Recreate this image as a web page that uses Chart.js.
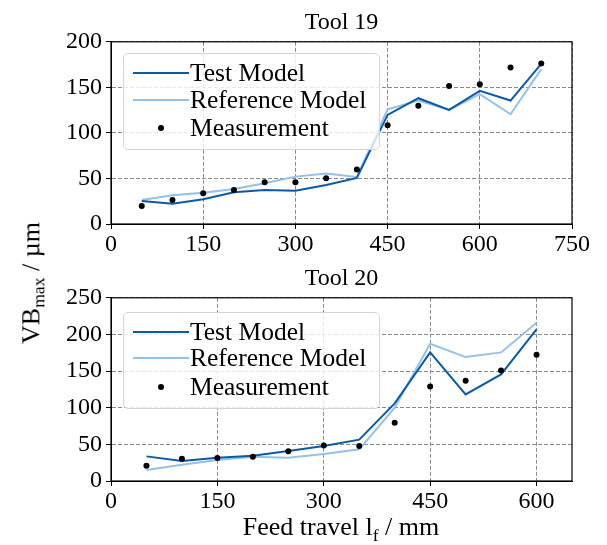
<!DOCTYPE html>
<html>
<head>
<meta charset="utf-8">
<script src="https://cdn.jsdelivr.net/npm/chart.js@4.4.1/dist/chart.umd.min.js"></script>
<style>
  body { margin: 0; background: #fff; }
  #wrap { position: relative; width: 607px; height: 545px; font-family: "Liberation Serif", serif; }
  canvas { position: absolute; left: 0; }
  .legend {
    position: absolute; left: 123px; width: 255px; height: 95px;
    border: 1px solid #d4d4d4; border-radius: 5px; background: rgba(255,255,255,0.8);
    font-size: 25.5px; color: #000;
  }
  .row { position: absolute; left: 9px; height: 28px; display: flex; align-items: center; white-space: nowrap; }
  .sample { width: 56px; height: 28px; position: relative; margin-right: 1px; }
  .sample .ln { position: absolute; left: 0; right: 0; top: 13px; height: 0; border-top: 2px solid; }
  .sample .dot { position: absolute; left: 25px; top: 11px; width: 6px; height: 6px; border-radius: 50%; background: #000; }
  .lab { position: absolute; font-size: 26px; white-space: nowrap; }
  .lab sub { font-size: 0.68em; vertical-align: -0.3em; }
</style>
</head>
<body>
<div id="wrap">
  <canvas id="c19" width="607" height="256" style="top:0"></canvas>
  <canvas id="c20" width="607" height="289" style="top:256px"></canvas>
  <div class="legend" id="leg19" style="top:53px"></div>
  <div class="legend" id="leg20" style="top:312px"></div>
  <div class="lab" style="left:33px; top:283px; transform: translate(-50%,-50%) rotate(-90deg);">VB<sub>max</sub> / µm</div>
  <div class="lab" style="left:341px; top:529px; transform: translate(-50%,-50%);">Feed travel l<sub>f</sub> / mm</div>
</div>
<script>
// Tool 19
const feed19 = [50, 100, 150, 200, 250, 300, 350, 400, 450, 500, 550, 600, 650, 700];
const test19 = [25.3, 22.3, 27.1, 34.8, 37.4, 36.6, 42.9, 50.5, 119.8, 138.1, 125.3, 146.2, 135.5, 175.8];
const ref19 = [26.4, 31.5, 34.4, 38.5, 44.7, 52.0, 55.3, 51.6, 126, 135.5, 125.3, 142.5, 120.5, 170];
const meas19 = [19.8, 26.4, 33.7, 37.4, 45.8, 45.8, 50.2, 59.7, 108.4, 129.7, 151.6, 153.5, 171.8, 176.2];
const xTicks19 = [0, 150, 300, 450, 600, 750];
const yTicks19 = [0, 50, 100, 150, 200];

// Tool 20
const feed20 = [50, 100, 150, 200, 250, 300, 350, 400, 450, 500, 550, 600];
const test20 = [33.6, 27.3, 31.8, 34.5, 40.9, 47.7, 56.4, 105.9, 175.5, 118.2, 145.5, 206.8];
const ref20 = [15, 22.3, 28.6, 33.2, 31.8, 36.8, 43.2, 100, 187.3, 169.1, 175.5, 215.9];
const meas20 = [20.9, 30.5, 31.4, 33.2, 40.5, 48.6, 47.7, 79.5, 129, 136.8, 150.9, 172.3];
const xTicks20 = [0, 150, 300, 450, 600];
const yTicks20 = [0, 50, 100, 150, 200, 250];

const darkBlue = "#0c5aa6";
const lightBlue = "#93c1e8";
const serif = "Liberation Serif";
Chart.defaults.font.family = serif;
const tickFont = { family: serif, size: 24 };

const frame = {
    id: "frame",
    afterDraw(chart) {
        const a = chart.chartArea;
        const ctx = chart.ctx;
        ctx.save();
        ctx.strokeStyle = "#000";
        ctx.lineWidth = 1.2;
        ctx.strokeRect(a.left, a.top, a.right - a.left, a.bottom - a.top);
        ctx.restore();
    }
};

function pts(xs, ys) {
    return xs.map((x, i) => ({ x: x, y: ys[i] }));
}

function makeChart(id, title, feed, test, ref, meas, xTicks, yTicks, xMax, axisH) {
    return new Chart(document.getElementById(id), {
        type: "line",
        data: {
            datasets: [
                { label: "Test Model", data: pts(feed, test), borderColor: darkBlue, borderWidth: 2, pointRadius: 0, order: 2 },
                { label: "Reference Model", data: pts(feed, ref), borderColor: lightBlue, borderWidth: 2, pointRadius: 0, order: 3 },
                { label: "Measurement", data: pts(feed, meas), showLine: false, pointRadius: 3, pointBackgroundColor: "#000", pointBorderWidth: 0, order: 1 }
            ]
        },
        options: {
            responsive: false,
            animation: false,
            layout: { padding: { left: 0, right: 35, top: 8, bottom: 0 } },
            plugins: {
                legend: { display: false },
                tooltip: { enabled: false },
                title: { display: true, fullSize: false, text: title, color: "#000", font: { family: serif, size: 24, weight: "normal" }, padding: { top: 0, bottom: 5 } }
            },
            scales: {
                x: {
                    type: "linear", min: 0, max: xMax,
                    afterBuildTicks: s => { s.ticks = xTicks.map(v => ({ value: v })); },
                    afterFit: s => { s.height = axisH; },
                    ticks: { color: "#000", font: tickFont, padding: 1, maxRotation: 0 },
                    grid: { color: "#8a8a8a", tickColor: "#000", tickLength: 5, tickBorderDash: [] },
                    border: { color: "#000", dash: [4, 2] }
                },
                y: {
                    min: 0, max: yTicks[yTicks.length - 1],
                    afterBuildTicks: s => { s.ticks = yTicks.map(v => ({ value: v })); },
                    afterFit: s => { s.width = 111; },
                    ticks: { color: "#000", font: tickFont, padding: 4 },
                    grid: { color: "#8a8a8a", tickColor: "#000", tickLength: 5, tickBorderDash: [] },
                    border: { color: "#000", dash: [4, 2] }
                }
            }
        },
        plugins: [frame]
    });
}

function buildLegend(chart, el, rowTops) {
    chart.data.datasets.forEach((ds, i) => {
        const row = document.createElement("div");
        row.className = "row";
        row.style.top = rowTops[i] + "px";
        const s = document.createElement("div");
        s.className = "sample";
        const m = document.createElement("div");
        if (ds.showLine === false) {
            m.className = "dot";
        } else {
            m.className = "ln";
            m.style.borderColor = ds.borderColor;
        }
        s.appendChild(m);
        const t = document.createElement("span");
        t.textContent = ds.label;
        row.appendChild(s);
        row.appendChild(t);
        el.appendChild(row);
    });
}

function init() {
    const chart19 = makeChart("c19", "Tool 19", feed19, test19, ref19, meas19, xTicks19, yTicks19, 750, 32);
    const chart20 = makeChart("c20", "Tool 20", feed20, test20, ref20, meas20, xTicks20, yTicks20, 650, 64);
    buildLegend(chart19, document.getElementById("leg19"), [5, 32, 60]);
    buildLegend(chart20, document.getElementById("leg20"), [5, 31, 60]);
}

document.fonts.load("24px 'Liberation Serif'").then(init, init);
</script>
</body>
</html>
